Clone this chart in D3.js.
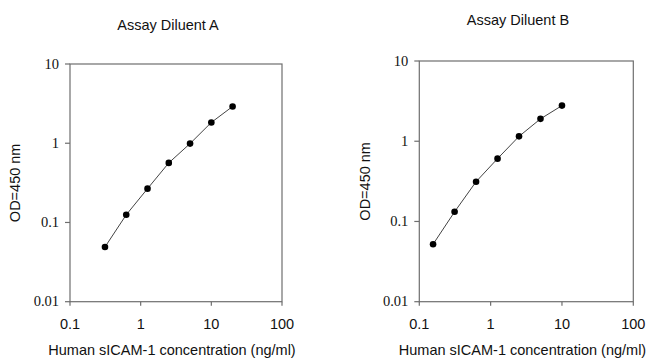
<!DOCTYPE html>
<meta charset="utf-8">
<style>
body { margin: 0; background: #fff; }
svg { display: block; }
.title, .xlabel, .ylabel, .xtick text { font-family: "Liberation Sans", Arial, sans-serif; fill: #111; }
.ytick text { font-family: "Liberation Serif", "Times New Roman", serif; fill: #111; }
.frame { fill: none; stroke: #6e6e6e; stroke-width: 1.2px; }
.tick line { stroke: #6e6e6e; stroke-width: 1.2px; }
.curve { fill: none; stroke: #444; stroke-width: 1px; }
.dot { fill: #000; }
</style>
<svg width="650" height="359"></svg>
<script src="https://cdnjs.cloudflare.com/ajax/libs/d3/7.8.5/d3.min.js"></script>
<script>

// concentration (ng/ml) and OD values
const concA = [0.3125, 0.625, 1.25, 2.5, 5, 10, 20];
const odA = [0.049, 0.125, 0.267, 0.565, 0.99, 1.83, 2.91];

const concB = [0.156, 0.3125, 0.625, 1.25, 2.5, 5, 10];
const odB = [0.052, 0.132, 0.313, 0.607, 1.15, 1.90, 2.78];

const xTicks = [0.1, 1, 10, 100];
const yTicks = [0.01, 0.1, 1, 10];
const titles = ["Assay Diluent A", "Assay Diluent B"];

const panels = [
  { title: titles[0], conc: concA, od: odA, left: 70, right: 282, top: 64, bottom: 301.7,
    titleX: 168, titleY: 30, xlabX: 172, ylabX: 15 },
  { title: titles[1], conc: concB, od: odB, left: 419.3, right: 633.3, top: 61, bottom: 301.7,
    titleX: 518, titleY: 25, xlabX: 522.5, ylabX: 365 }
];

const svg = d3.select("svg");

panels.forEach(function(p) {
  const g = svg.append("g");

  const x = d3.scaleLog().domain([0.1, 100]).range([p.left, p.right]);
  const y = d3.scaleLog().domain([0.01, 10]).range([p.bottom, p.top]);

  g.append("rect")
    .attr("class", "frame")
    .attr("x", p.left)
    .attr("y", p.top)
    .attr("width", p.right - p.left)
    .attr("height", p.bottom - p.top);

  // x ticks
  const xt = g.selectAll(".xtick")
    .data(xTicks)
    .enter().append("g")
      .attr("class", "tick xtick")
      .attr("transform", function(d) { return "translate(" + x(d) + "," + p.bottom + ")"; });
  xt.append("line").attr("y2", 4);
  xt.append("text")
    .attr("y", 27)
    .attr("text-anchor", "middle")
    .attr("font-size", "14.5px")
    .text(function(d) { return d; });

  // y ticks
  const yt = g.selectAll(".ytick")
    .data(yTicks)
    .enter().append("g")
      .attr("class", "tick ytick")
      .attr("transform", function(d) { return "translate(" + p.left + "," + y(d) + ")"; });
  yt.append("line").attr("x2", -5);
  yt.append("text")
    .attr("x", -11)
    .attr("dy", "0.33em")
    .attr("text-anchor", "end")
    .attr("font-size", "14.5px")
    .text(function(d) { return d; });

  g.append("text")
    .attr("class", "title")
    .attr("x", p.titleX)
    .attr("y", p.titleY)
    .attr("text-anchor", "middle")
    .attr("font-size", "14.5px")
    .text(p.title);

  g.append("text")
    .attr("class", "xlabel")
    .attr("x", p.xlabX)
    .attr("y", 355)
    .attr("text-anchor", "middle")
    .attr("font-size", "14.5px")
    .text("Human sICAM-1 concentration (ng/ml)");

  g.append("text")
    .attr("class", "ylabel")
    .attr("transform", "translate(" + (p.ylabX + 5) + "," + ((p.top + p.bottom) / 2) + ") rotate(-90)")
    .attr("text-anchor", "middle")
    .attr("font-size", "14.5px")
    .text("OD=450 nm");

  const pts = p.conc.map(function(c, i) { return [c, p.od[i]]; });

  g.append("path")
    .attr("class", "curve")
    .attr("d", d3.line()
      .x(function(d) { return x(d[0]); })
      .y(function(d) { return y(d[1]); })(pts));

  g.selectAll(".dot")
    .data(pts)
    .enter().append("circle")
      .attr("class", "dot")
      .attr("cx", function(d) { return x(d[0]); })
      .attr("cy", function(d) { return y(d[1]); })
      .attr("r", 3.3);
});

</script>
